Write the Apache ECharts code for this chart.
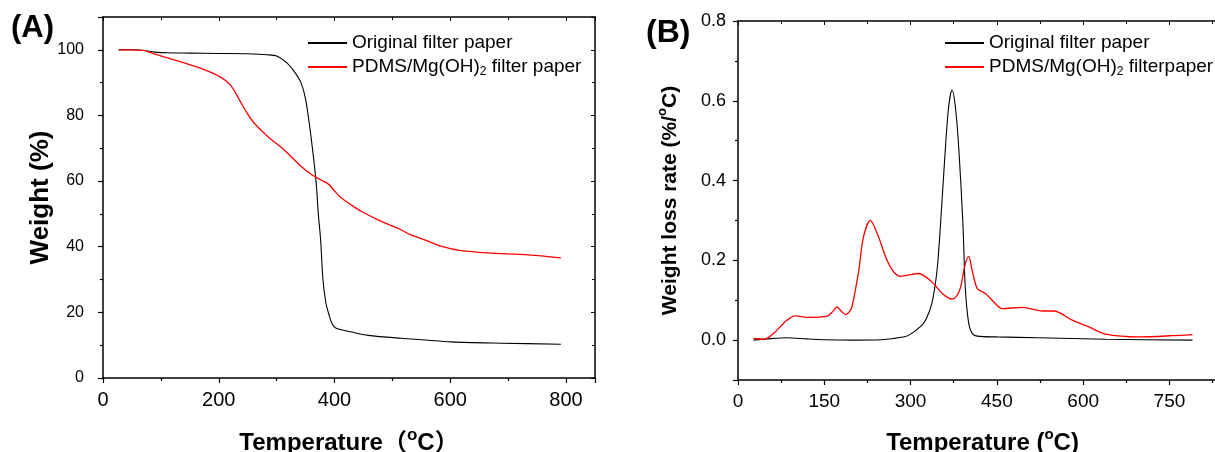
<!DOCTYPE html>
<html>
<head>
<meta charset="utf-8">
<script src="https://cdn.jsdelivr.net/npm/echarts@6.0.0/dist/echarts.min.js"></script>
<style>
  html, body { margin: 0; padding: 0; background: #fff; }
  #main { width: 1215px; height: 452px; }
</style>
</head>
<body>
<div id="main"></div>
<script>
// 数据：[温度, 数值]
var nameOrig = 'Original filter paper';
var nameCoatA = 'PDMS/Mg(OH)2 filter paper';
var nameCoatB = 'PDMS/Mg(OH)2 filterpaper';

// (A) TG 曲线 Weight (%)
var tgOrig = [[27,100],[50,100],[70,99.8],[90,99.3],[111,99.1],[150,99],[200,98.9],[250,98.8],[284,98.5],[300,98.1],
  [319,95.8],[330,93.5],[342,90],[350,85],[359,74],[368,60],[372,50],[376,42],[380,30],[385,23],[390,19.5],
  [395,16.8],[402,15.2],[430,14],[458,13],[515,12.1],[602,11],[688,10.6],[791,10.3]];
var tgCoat = [[27,100],[50,100],[70,99.8],[93,98.5],[122,97],[168,94.4],[203,91.7],[220,89.3],[235,85],[249,80.7],
  [261,77.7],[285,73.5],[313,69.5],[342,64.5],[360,62],[376,60.4],[390,59],[400,57],[411,55],[430,52.6],
  [446,50.8],[475,48.2],[512,45.4],[532,43.6],[560,41.8],[585,40.1],[619,38.8],[665,38.1],[735,37.5],[791,36.6]];

// (B) DTG 曲线 Weight loss rate (%/°C)
var dtgOrig = [[27,0],[50,0.003],[85,0.006],[120,0.003],[150,0.001],[200,0],[250,0.001],[270,0.004],[291,0.009],
  [300,0.015],[317,0.034],[326,0.05],[337,0.092],[346,0.175],[352,0.29],[360,0.47],[366,0.583],[372,0.627],
  [378,0.583],[384,0.475],[391,0.29],[395,0.133],[401,0.042],[407,0.017],[416,0.01],[450,0.008],[523,0.006],
  [639,0.002],[790,0]];
var dtgCoat = [[27,0.004],[45,0.002],[62,0.017],[85,0.05],[100,0.061],[120,0.057],[155,0.06],[165,0.072],[172,0.083],
  [180,0.072],[187,0.064],[193,0.07],[198,0.083],[210,0.175],[218,0.258],[230,0.3],[242,0.267],[259,0.2],
  [270,0.172],[282,0.16],[295,0.163],[314,0.167],[337,0.146],[355,0.117],[372,0.103],[380,0.11],[387,0.133],
  [394,0.185],[401,0.21],[407,0.175],[416,0.129],[430,0.117],[445,0.095],[459,0.079],[494,0.082],[529,0.073],
  [549,0.073],[581,0.05],[610,0.033],[639,0.015],[697,0.008],[755,0.011],[790,0.014]];

var font = "'Liberation Sans', Arial, 'Noto Sans CJK SC', sans-serif";

var chart = echarts.init(document.getElementById('main'), null, { renderer: 'canvas' });

// 公共的坐标轴样式
function baseAxis(extra) {
  var ax = {
    type: 'value',
    axisLine: { show: true, onZero: false, lineStyle: { color: '#000', width: 1.5 } },
    axisTick: { show: true, inside: false, length: 5, lineStyle: { color: '#000', width: 1.2 } },
    minorTick: { show: true, splitNumber: 2, length: 3, lineStyle: { color: '#000', width: 1.2 } },
    splitLine: { show: false },
    minorSplitLine: { show: false },
    axisLabel: { color: '#000', fontFamily: font }
  };
  return Object.assign(ax, extra);
}
// 镜像轴（上、右），只有刻度
function mirrorAxis(extra) {
  var ax = baseAxis(extra);
  ax.axisLabel = { show: false };
  ax.axisTick = { show: true, inside: true, length: 4, lineStyle: { color: '#000', width: 1 } };
  ax.minorTick = { show: true, splitNumber: 2, length: 3, lineStyle: { color: '#000', width: 1 } };
  ax.axisLine = { show: true, onZero: false, lineStyle: { color: '#000', width: 1.5 } };
  return ax;
}

function legendFmt(name) {
  if (name.indexOf('(OH)2') >= 0) {
    var parts = name.split('(OH)2');
    return '{t|' + parts[0] + '(OH)}{sub|2}{t|' + parts[1] + '}';
  }
  return '{t|' + name + '}';
}
var legendRich = {
  t: { fontSize: 19, lineHeight: 22, color: '#000', fontFamily: font },
  sub: { fontSize: 12, lineHeight: 12, color: '#000', fontFamily: font, verticalAlign: 'bottom' }
};
var supRich = function (size) {
  return { s: { fontSize: size, fontWeight: 'bold', color: '#000', fontFamily: font, lineHeight: size, verticalAlign: 'top' } };
};

option = {
  backgroundColor: '#fff',
  animation: false,
  title: [
    { text: '(A)', left: 11, top: 13, padding: 0, textStyle: { fontSize: 31, fontWeight: 'bold', color: '#000', fontFamily: font } },
    { text: '(B)', left: 646, top: 17, padding: 0, textStyle: { fontSize: 32, fontWeight: 'bold', color: '#000', fontFamily: font } }
  ],
  legend: [
    {
      orient: 'vertical', left: 308, top: 32, padding: 0, itemGap: 2,
      itemWidth: 39, itemHeight: 2, icon: 'rect',
      data: [nameOrig, nameCoatA],
      formatter: legendFmt,
      textStyle: { fontSize: 19, lineHeight: 22, rich: legendRich }
    },
    {
      orient: 'vertical', left: 945, top: 32, padding: 0, itemGap: 2,
      itemWidth: 39, itemHeight: 2, icon: 'rect',
      data: [nameOrig, nameCoatB],
      formatter: legendFmt,
      textStyle: { fontSize: 19, lineHeight: 22, rich: legendRich }
    }
  ],
  grid: [
    { left: 103, top: 17, width: 492, height: 361, outerBoundsMode: 'none', containLabel: false },
    { left: 738, top: 21, width: 489, height: 359, outerBoundsMode: 'none', containLabel: false }
  ],
  xAxis: [
    baseAxis({
      gridIndex: 0, position: 'bottom', min: 0, max: 850, interval: 200,
      axisLabel: { color: '#000', fontFamily: font, fontSize: 20, margin: 12, showMaxLabel: false },
      name: 'Temperature（{s|o}C）', nameLocation: 'middle', nameGap: 49,
      nameTextStyle: { fontSize: 24, fontWeight: 'bold', color: '#000', fontFamily: font, lineHeight: 32, rich: supRich(17) }
    }),
    mirrorAxis({ gridIndex: 0, position: 'top', min: 0, max: 850, interval: 200 }),
    baseAxis({
      gridIndex: 1, position: 'bottom', min: 0, max: 850, interval: 150,
      axisLabel: { color: '#000', fontFamily: font, fontSize: 19, margin: 12, showMaxLabel: false },
      name: 'Temperature ({s|o}C)', nameLocation: 'middle', nameGap: 47,
      nameTextStyle: { fontSize: 24, fontWeight: 'bold', color: '#000', fontFamily: font, lineHeight: 32, rich: supRich(15) }
    }),
    mirrorAxis({ gridIndex: 1, position: 'top', min: 0, max: 850, interval: 150 })
  ],
  yAxis: [
    baseAxis({
      gridIndex: 0, position: 'left', min: 0, max: 110, interval: 20,
      axisLabel: { color: '#000', fontFamily: font, fontSize: 16, margin: 19, showMaxLabel: false },
      name: 'Weight (%)', nameLocation: 'middle', nameGap: 48,
      nameTextStyle: { fontSize: 26, fontWeight: 'bold', color: '#000', fontFamily: font }
    }),
    mirrorAxis({ gridIndex: 0, position: 'right', min: 0, max: 110, interval: 20 }),
    baseAxis({
      gridIndex: 1, position: 'left', min: -0.1, max: 0.8, splitNumber: 5,
      axisLabel: { color: '#000', fontFamily: font, fontSize: 18, margin: 12, showMinLabel: false,
        formatter: function (v) { return v.toFixed(1); } },
      name: 'Weight loss rate (%/{s|o}C)', nameLocation: 'middle', nameGap: 54,
      nameTextStyle: { fontSize: 21, fontWeight: 'bold', color: '#000', fontFamily: font, lineHeight: 28, rich: supRich(13) }
    })
  ],
  series: [
    { name: nameOrig, type: 'line', xAxisIndex: 0, yAxisIndex: 0, data: tgOrig, symbol: 'none',
      smooth: 0.3, lineStyle: { color: '#000', width: 1.1 }, itemStyle: { color: '#000' } },
    { name: nameCoatA, type: 'line', xAxisIndex: 0, yAxisIndex: 0, data: tgCoat, symbol: 'none',
      smooth: 0.3, lineStyle: { color: '#ff0000', width: 1.3 }, itemStyle: { color: '#ff0000' } },
    { name: nameOrig, type: 'line', xAxisIndex: 2, yAxisIndex: 2, data: dtgOrig, symbol: 'none',
      smooth: 0.3, lineStyle: { color: '#000', width: 1.1 }, itemStyle: { color: '#000' } },
    { name: nameCoatB, type: 'line', xAxisIndex: 2, yAxisIndex: 2, data: dtgCoat, symbol: 'none',
      smooth: 0.3, lineStyle: { color: '#ff0000', width: 1.3 }, itemStyle: { color: '#ff0000' } }
  ]
};

chart.setOption(option);
</script>
</body>
</html>
